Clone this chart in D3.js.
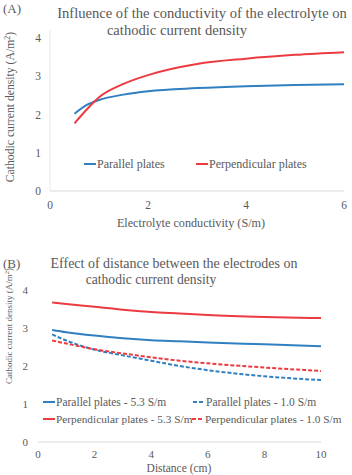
<!DOCTYPE html>
<html>
<head>
<meta charset="utf-8">
<script src="https://cdn.jsdelivr.net/npm/d3@7"></script>
<style>
 body { margin: 0; background: #fff; }
 text { font-family: "Liberation Serif", "Times New Roman", serif; fill: #595959; }
</style>
</head>
<body>
<svg id="chart" width="352" height="475"></svg>
<script>
// panel A: conductivity (S/m) vs cathodic current density
var condX = [0.5, 0.75, 1, 1.5, 2, 3, 4, 5, 6];
var parallelA = [2.02, 2.25, 2.38, 2.52, 2.61, 2.69, 2.74, 2.77, 2.79];
var perpendA = [1.77, 2.13, 2.45, 2.8, 3.03, 3.32, 3.46, 3.56, 3.63];
var ticksAx = [0, 2, 4, 6];
var ticksY = [0, 1, 2, 3, 4];

// panel B: distance (cm)
var distX = [0.5, 1, 2, 3, 4, 5, 6, 8, 10];
var par53 = [2.95, 2.89, 2.8, 2.73, 2.68, 2.65, 2.62, 2.57, 2.52];
var par10 = [2.83, 2.67, 2.43, 2.28, 2.14, 2.0, 1.89, 1.73, 1.63];
var perp53 = [3.67, 3.63, 3.56, 3.48, 3.42, 3.38, 3.34, 3.29, 3.26];
var perp10 = [2.67, 2.59, 2.44, 2.33, 2.23, 2.14, 2.07, 1.96, 1.87];
var ticksBx = [0, 2, 4, 6, 8, 10];

var blue = "#2f7fc1", red = "#ec3b40";
var svg = d3.select("#chart");

function drawLine(g, xs, ys, x, y, col, dash) {
    var line = d3.line()
    .x(function(d) { return x(d[0]); })
    .y(function(d) { return y(d[1]); })
    .curve(d3.curveMonotoneX);
    g.append("path")
    .datum(d3.zip(xs, ys))
    .attr("d", line)
    .attr("fill", "none")
    .attr("stroke", col)
    .attr("stroke-width", 2)
    .attr("stroke-dasharray", dash ? "4,2" : null);
}

function legendItem(g, lx, ly, col, dash, label, size) {
    g.append("line")
    .attr("x1", lx).attr("x2", lx + 12)
    .attr("y1", ly).attr("y2", ly)
    .attr("stroke", col).attr("stroke-width", 2)
    .attr("stroke-dasharray", dash ? "4,2" : null);
    g.append("text")
    .attr("x", lx + 13).attr("y", ly + 4)
    .style("font-size", size + "px")
    .text(label);
}

// ---------- (A) ----------
var xA = d3.scaleLinear().domain([0, 6]).range([50, 344]);
var yA = d3.scaleLinear().domain([0, 4]).range([191, 38]);
var gA = svg.append("g");

gA.append("line")
.attr("x1", 50).attr("x2", 50).attr("y1", 30).attr("y2", 191)
.attr("stroke", "#e8e8e8");
gA.append("line")
.attr("x1", 50).attr("x2", 344).attr("y1", yA(0)).attr("y2", yA(0))
.attr("stroke", "#d9d9d9");

gA.selectAll(".ty").data(ticksY).enter().append("text")
.attr("x", 41).attr("y", function(d) { return yA(d) + 4; })
.attr("text-anchor", "end")
.style("font-size", "11.5px")
.text(function(d) { return d; });
gA.selectAll(".tx").data(ticksAx).enter().append("text")
.attr("x", function(d) { return xA(d); }).attr("y", 209)
.attr("text-anchor", "middle")
.style("font-size", "11.5px")
.text(function(d) { return d; });

drawLine(gA, condX, parallelA, xA, yA, blue, false);
drawLine(gA, condX, perpendA, xA, yA, red, false);

legendItem(gA, 84, 164, blue, false, "Parallel plates", 12);
legendItem(gA, 196, 164, red, false, "Perpendicular plates", 12);

gA.append("text").attr("x", 3).attr("y", 13).style("font-size", "13px").text("(A)");
gA.append("text").attr("x", 202).attr("y", 18).attr("text-anchor", "middle")
.style("font-size", "14.6px").text("Influence of the conductivity of the electrolyte on");
gA.append("text").attr("x", 177).attr("y", 35).attr("text-anchor", "middle")
.style("font-size", "14.6px").text("cathodic current density");
gA.append("text").attr("x", 191).attr("y", 227).attr("text-anchor", "middle")
.style("font-size", "12.2px").text("Electrolyte conductivity (S/m)");
gA.append("text")
.attr("transform", "translate(14,107)rotate(-90)")
.attr("text-anchor", "middle")
.style("font-size", "11.7px")
.html("Cathodic current density (A/m<tspan dy='-4' font-size='8px'>2</tspan><tspan dy='4'>)</tspan>");

// ---------- (B) ----------
var xB = d3.scaleLinear().domain([0, 10]).range([38, 321]);
var yB = d3.scaleLinear().domain([0, 4]).range([442, 290]);
var gB = svg.append("g");

gB.append("line")
.attr("x1", 38).attr("x2", 321).attr("y1", yB(0)).attr("y2", yB(0))
.attr("stroke", "#d9d9d9");

gB.selectAll(".ty").data(ticksY).enter().append("text")
.attr("x", 28).attr("y", function(d) { return yB(d) + 4; })
.attr("text-anchor", "end")
.style("font-size", "11px")
.text(function(d) { return d; });
gB.selectAll(".tx").data(ticksBx).enter().append("text")
.attr("x", function(d) { return xB(d); }).attr("y", 458)
.attr("text-anchor", "middle")
.style("font-size", "11px")
.text(function(d) { return d; });

drawLine(gB, distX, perp53, xB, yB, red, false);
drawLine(gB, distX, par53, xB, yB, blue, false);
drawLine(gB, distX, par10, xB, yB, blue, true);
drawLine(gB, distX, perp10, xB, yB, red, true);

legendItem(gB, 43, 402, blue, false, "Parallel plates - 5.3 S/m", 11.5);
legendItem(gB, 193, 402, blue, true, "Parallel plates - 1.0 S/m", 11.5);
legendItem(gB, 43, 419, red, false, "Perpendicular plates - 5.3 S/m", 11.3);
legendItem(gB, 192, 419, red, true, "Perpendicular plates - 1.0 S/m", 11.3);

gB.append("text").attr("x", 3).attr("y", 268).style("font-size", "13px").text("(B)");
gB.append("text").attr("x", 174).attr("y", 268).attr("text-anchor", "middle")
.style("font-size", "14px").text("Effect of distance between the electrodes on");
gB.append("text").attr("x", 151).attr("y", 284).attr("text-anchor", "middle")
.style("font-size", "13.6px").text("cathodic current density");
gB.append("text").attr("x", 179).attr("y", 472).attr("text-anchor", "middle")
.style("font-size", "11.5px").text("Distance (cm)");
gB.append("text")
.attr("transform", "translate(12,326)rotate(-90)")
.attr("text-anchor", "middle")
.style("font-size", "9px")
.html("Cathodic current density (A/m<tspan dy='-3' font-size='6.5px'>2</tspan><tspan dy='3'>)</tspan>");
</script>
</body>
</html>
